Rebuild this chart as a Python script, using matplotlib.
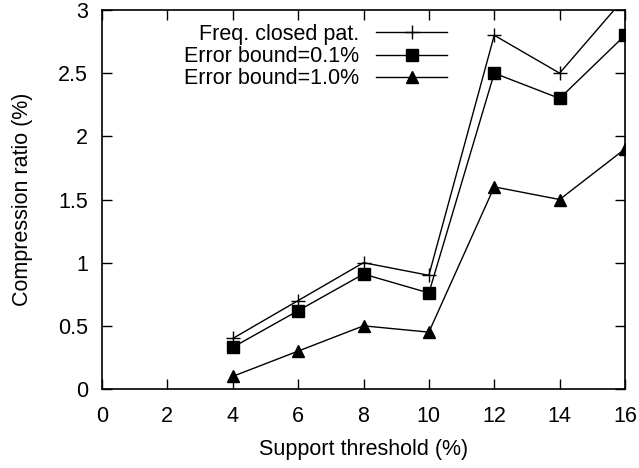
import matplotlib
matplotlib.use("Agg")
import matplotlib.pyplot as plt

plt.rcParams['font.family'] = ['Liberation Sans', 'DejaVu Sans']

support = [4, 6, 8, 10, 12, 14, 16]
freq_closed = [0.4, 0.7, 1.0, 0.9, 2.8, 2.5, 3.1]
err_01 = [0.33, 0.62, 0.91, 0.76, 2.5, 2.3, 2.8]
err_10 = [0.1, 0.3, 0.5, 0.45, 1.6, 1.5, 1.9]

fig = plt.figure(figsize=(6.39, 4.68), dpi=100)
ax = fig.add_axes([102 / 639, 1 - 389 / 468, 523 / 639, 379 / 468])

ax.plot(support, freq_closed, color='black', lw=1, marker='+', ms=10, mew=1,
        label='Freq. closed pat.')
ax.plot(support, err_01, color='black', lw=1, marker='s', ms=9,
        label='Error bound=0.1%')
ax.plot(support, err_10, color='black', lw=1, marker='^', ms=8,
        label='Error bound=1.0%')

ax.set_xlim(0, 16)
ax.set_ylim(0, 3)
ax.set_xticks(range(0, 17, 2))
ax.set_yticks([0, 0.5, 1, 1.5, 2, 2.5, 3])
ax.set_yticklabels(['0', '0.5', '1', '1.5', '2', '2.5', '3'])
ax.tick_params(direction='in', top=True, right=True, length=7, width=1,
               labelsize=15.5)
ax.tick_params(axis='x', pad=12)
ax.tick_params(axis='y', pad=10)
for s in ax.spines.values():
    s.set_linewidth(1.2)

ax.set_xlabel('Support threshold (%)', fontsize=15.5, labelpad=9)
ax.set_ylabel('Compression ratio (%)', fontsize=15.5, labelpad=18)

ax.legend(loc='upper left', bbox_to_anchor=(0.13, 1.0), markerfirst=False,
          frameon=False, fontsize=15.5, handlelength=3.3, handletextpad=0.8,
          labelspacing=0.05, borderaxespad=0.25)

fig.savefig('out.png', dpi=100)
